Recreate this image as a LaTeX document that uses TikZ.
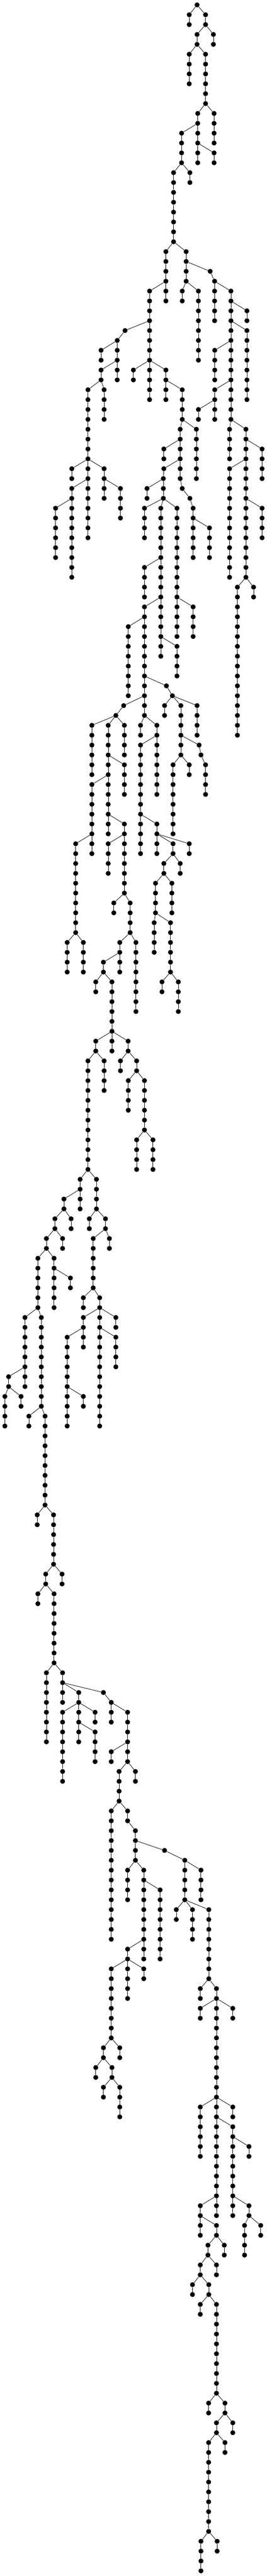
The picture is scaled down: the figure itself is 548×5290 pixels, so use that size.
\documentclass[tikz,border=0pt]{standalone}
\tikzset{
  vertex/.style={circle,fill=black,draw=none,inner sep=0pt,minimum size=10.2pt},
  link/.style={draw=black,line width=0.85pt}
}
% #1 chain name, #2 parent chain, #3 x reading, #4 first level, #5 last level
\newcommand{\chn}[5]{%
  \foreach \lv in {#4,...,#5}{%
    \node[vertex] (#1-\lv) at ({10+(#3-29)*0.3494},{-10-20.267*\lv}) {};
    \ifnum\lv>#4\relax
      \pgfmathtruncatemacro{\pv}{\lv-1}%
      \draw[link] (#1-\pv) -- (#1-\lv);
    \fi
  }%
  \pgfmathtruncatemacro{\pl}{#4-1}%
  \draw[link] (#2-\pl) -- (#1-#4);
}
\begin{document}
\begin{tikzpicture}[x=1pt,y=1pt]
\useasboundingbox (0,0) rectangle (548,-5290);
\node[vertex] (r-0) at ({10+(1158-29)*0.3494},-10) {};
\chn{a}{r}{1112}{1}{2}
\chn{b}{r}{1208}{1}{2}
\chn{c}{b}{1158}{3}{4}
\chn{d}{b}{1254}{3}{4}
\chn{e}{c}{1112}{5}{8}
\chn{f}{c}{1208}{5}{10}
\chn{g}{f}{1162}{11}{16}
\chn{h}{f}{1258}{11}{14}
\chn{i}{g}{1067}{13}{16}
\chn{j}{g}{1258}{15}{16}
\chn{k}{i}{1020}{17}{24}
\chn{l}{i}{1116}{17}{18}
\chn{m}{k}{975}{25}{30}
\chn{n}{k}{1094}{25}{28}
\chn{o}{n}{1235}{27}{27}
\chn{p}{o}{1261}{28}{32}
\chn{q}{p}{1357}{29}{42}
\chn{na}{n}{1071}{29}{30}
\chn{nb}{n}{1166}{29}{36}
\chn{t}{q}{1451}{31}{32}
\chn{u}{q}{1451}{33}{40}
\chn{v}{q}{1262}{35}{38}
\chn{w}{q}{1262}{39}{42}
\chn{xx}{w}{1166}{41}{42}
\chn{y}{m}{879}{29}{40}
\chn{aa}{y}{735}{33}{33}
\chn{ab}{aa}{689}{34}{38}
\chn{ac}{ab}{594}{35}{36}
\chn{ad}{ab}{594}{37}{38}
\chn{ae}{ad}{517}{39}{54}
\chn{af}{ad}{612}{39}{42}
\chn{ag}{y}{784}{37}{38}
\chn{ah}{y}{975}{37}{40}
\chn{ai}{ah}{1071}{39}{42}
\chn{aj}{ai}{1059}{43}{48}
\chn{ak}{ai}{1154}{43}{48}
\chn{qa}{q}{1349}{43}{46}
\chn{qb}{q}{1445}{43}{58}
\chn{qc}{qb}{1540}{45}{48}
\chn{qd}{qb}{1349}{47}{58}
\chn{qe}{qb}{1540}{51}{54}
\chn{qf}{qb}{1395}{59}{74}
\chn{qg}{qb}{1490}{59}{60}
\chn{ba}{ae}{422}{47}{48}
\chn{bb}{ae}{612}{47}{50}
\chn{bc}{ae}{422}{49}{58}
\chn{bd}{bc}{327}{51}{56}
\chn{be}{bb}{708}{49}{52}
\chn{al}{aj}{963}{45}{46}
\chn{am}{aj}{963}{47}{47}
\chn{an}{am}{960}{48}{50}
\chn{ao}{an}{864}{49}{50}
\chn{ap}{an}{849}{51}{54}
\chn{aq}{an}{945}{51}{66}
\chn{ar}{an}{1040}{51}{64}
\chn{bs}{ar}{1135}{61}{64}
\chn{bt}{aq}{1040}{65}{68}
\chn{au}{aq}{849}{57}{60}
\chn{av}{aq}{849}{61}{72}
\chn{aw}{av}{754}{63}{70}
\chn{ax}{av}{978}{69}{69}
\chn{ay}{ax}{1013}{70}{70}
\chn{az}{ay}{967}{71}{72}
\chn{ca}{ay}{1063}{71}{76}
\chn{cb}{ay}{1158}{71}{74}
\chn{cc}{ca}{1170}{75}{75}
\chn{cd}{cc}{1181}{76}{76}
\chn{ce}{cd}{1208}{77}{80}
\chn{cf}{ca}{1017}{77}{84}
\chn{cg}{ca}{1112}{77}{78}
\chn{ch}{av}{727}{71}{71}
\chn{ci}{ch}{681}{72}{72}
\chn{cj}{ci}{540}{73}{78}
\chn{ck}{ci}{636}{73}{84}
\chn{cl}{ci}{731}{73}{76}
\chn{cm}{ck}{731}{77}{80}
\chn{cn}{ck}{540}{79}{86}
\chn{co}{ck}{731}{83}{90}
\chn{cp}{av}{826}{73}{74}
\chn{cq}{av}{922}{73}{80}
\chn{cr}{cq}{826}{75}{86}
\chn{cs}{cr}{922}{83}{86}
\chn{ct}{cs}{1017}{85}{86}
\chn{cu}{cs}{1112}{85}{86}
\chn{cv}{cn}{445}{85}{94}
\chn{cw}{co}{636}{85}{88}
\chn{cx}{aj}{1071}{49}{49}
\chn{cy}{cx}{1116}{50}{50}
\chn{cz}{cy}{1135}{51}{56}
\chn{da}{cz}{1231}{53}{56}
\chn{dd}{cv}{395}{95}{98}
\chn{de}{cv}{490}{95}{98}
\chn{df}{co}{669}{91}{92}
\chn{dg}{co}{765}{91}{94}
\chn{dh}{dg}{704}{95}{98}
\chn{di}{dg}{799}{95}{102}
\chn{dj}{dh}{608}{97}{98}
\chn{dk}{dj}{563}{99}{100}
\chn{dl}{dj}{658}{99}{104}
\chn{dm}{dl}{563}{105}{106}
\chn{dn}{dl}{658}{105}{106}
\chn{do}{dl}{753}{105}{106}
\chn{dp}{dm}{517}{107}{118}
\chn{dq}{dm}{612}{107}{110}
\chn{dr}{do}{708}{107}{108}
\chn{ds}{do}{803}{107}{108}
\chn{du}{ct}{963}{87}{88}
\chn{dv}{ct}{1059}{87}{88}
\chn{dw}{du}{914}{89}{92}
\chn{dx}{du}{1010}{89}{92}
\chn{dy}{dw}{906}{93}{96}
\chn{dz}{dw}{1002}{93}{98}
\chn{ea}{dz}{952}{99}{100}
\chn{eb}{dz}{1048}{99}{102}
\chn{ec}{ds}{754}{109}{112}
\chn{ed}{ds}{849}{109}{114}
\chn{ee}{ed}{803}{115}{118}
\chn{ef}{ed}{899}{115}{118}
\chn{eg}{dp}{471}{119}{122}
\chn{eh}{dp}{567}{119}{122}
\chn{ei}{eg}{376}{121}{122}
\chn{ej}{ei}{323}{123}{124}
\chn{ek}{ei}{418}{123}{124}
\chn{el}{ej}{273}{125}{126}
\chn{em}{ej}{368}{125}{126}
\chn{en}{el}{223}{127}{132}
\chn{eo}{el}{318}{127}{132}
\chn{ep}{eo}{414}{129}{130}
\chn{eq}{eh}{525}{123}{124}
\chn{er}{eh}{620}{123}{124}
\chn{es}{er}{548}{125}{130}
\chn{et}{er}{643}{125}{126}
\chn{eu}{es}{490}{131}{132}
\chn{ev}{es}{586}{131}{144}
\chn{ew}{ev}{490}{133}{136}
\chn{ex}{ev}{681}{133}{134}
\chn{ey}{ew}{395}{135}{144}
\chn{ez}{ey}{490}{141}{142}
\chn{fa}{ev}{681}{135}{138}
\chn{fb}{en}{147}{133}{140}
\chn{fc}{fb}{51}{139}{140}
\chn{fd}{fc}{29}{141}{144}
\chn{fe}{fc}{124}{141}{142}
\chn{ff}{en}{243}{133}{142}
\chn{fg}{ff}{170}{143}{144}
\chn{fh}{ff}{265}{143}{152}
\chn{fi}{fh}{219}{153}{154}
\chn{fj}{fh}{315}{153}{158}
\chn{fk}{fj}{269}{159}{160}
\chn{fl}{fj}{365}{159}{160}
\chn{fm}{fk}{223}{161}{162}
\chn{fn}{fk}{318}{161}{168}
\chn{fo}{fn}{273}{169}{176}
\chn{fp}{fn}{368}{169}{172}
\chn{fq}{fp}{463}{171}{172}
\chn{fr}{fp}{608}{171}{171}
\chn{fs}{fr}{654}{172}{174}
\chn{ft}{fq}{368}{173}{180}
\chn{fu}{fq}{463}{173}{176}
\chn{fv}{fq}{559}{173}{174}
\chn{fw}{fu}{559}{175}{178}
\chn{fx}{fs}{750}{173}{178}
\chn{fy}{fx}{654}{177}{178}
\chn{fz}{fx}{700}{179}{182}
\chn{ga}{fx}{796}{179}{180}
\chn{gb}{fz}{654}{183}{196}
\chn{gc}{fz}{750}{183}{184}
\chn{gd}{gc}{796}{185}{188}
\chn{ge}{gd}{967}{187}{187}
\chn{gf}{ge}{1086}{188}{192}
\chn{gg}{gf}{1181}{189}{192}
\chn{gh}{gf}{1036}{193}{194}
\chn{gi}{gf}{1131}{193}{196}
\chn{gj}{gf}{1227}{193}{200}
\chn{gk}{gd}{750}{189}{192}
\chn{gl}{gd}{845}{189}{198}
\chn{gm}{gl}{941}{191}{198}
\chn{gn}{gl}{750}{197}{198}
\chn{go}{gn}{654}{199}{206}
\chn{gp}{gn}{750}{199}{202}
\chn{gq}{gn}{845}{199}{200}
\chn{gr}{go}{608}{207}{208}
\chn{gs}{go}{704}{207}{208}
\chn{gt}{gr}{563}{209}{210}
\chn{gu}{gr}{658}{209}{210}
\chn{gv}{gu}{608}{211}{212}
\chn{gw}{gu}{704}{211}{214}
\chn{gx}{gj}{1177}{201}{202}
\chn{gy}{gj}{1272}{201}{202}
\chn{gz}{gy}{1177}{203}{204}
\chn{ha}{gy}{1272}{203}{212}
\chn{hb}{gy}{1368}{203}{204}
\chn{hc}{ha}{1177}{213}{218}
\chn{hd}{ha}{1272}{213}{224}
\chn{he}{ha}{1368}{213}{214}
\chn{hf}{hd}{1368}{215}{224}
\chn{hg}{hf}{1463}{217}{218}
\chn{hh}{hd}{1177}{223}{226}
\chn{hi}{hh}{1272}{225}{226}
\chn{hj}{hi}{1222}{227}{228}
\chn{hk}{hi}{1318}{227}{228}
\chn{hl}{hj}{1177}{229}{230}
\chn{hm}{hj}{1272}{229}{230}
\chn{hn}{hl}{1131}{231}{232}
\chn{ho}{hl}{1227}{231}{232}
\chn{hp}{ho}{1177}{233}{234}
\chn{hq}{ho}{1272}{233}{242}
\chn{hr}{hq}{1226}{243}{244}
\chn{hs}{hq}{1322}{243}{244}
\chn{ht}{hs}{1272}{245}{246}
\chn{hu}{hs}{1368}{245}{246}
\chn{hv}{ht}{1226}{247}{256}
\chn{hw}{ht}{1322}{247}{248}
\chn{hx}{hv}{1181}{257}{260}
\chn{hy}{hv}{1276}{257}{258}
\chn{hz}{hf}{1463}{223}{224}
\chn{ia}{hz}{1437}{225}{228}
\chn{ib}{hz}{1532}{225}{226}
\end{tikzpicture}
\end{document}
